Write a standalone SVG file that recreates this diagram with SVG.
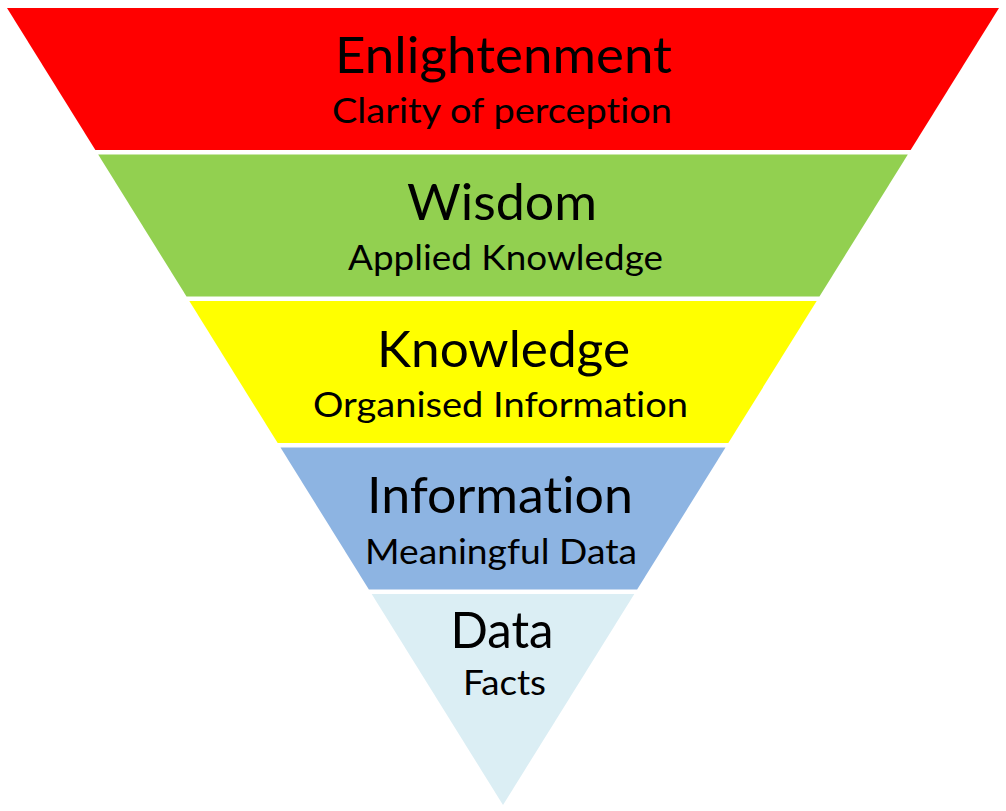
<svg xmlns="http://www.w3.org/2000/svg" width="1006" height="811" viewBox="0 0 1006 811">
<style>
text{font-family:Lato,"Open Sans","Liberation Sans",sans-serif;fill:#000;text-anchor:middle;font-variant-ligatures:none}
.t{font-size:51px}
.s{font-size:35px}
</style>
<rect width="1006" height="811" fill="#fff"/>
<g id="enlightenment">
<polygon points="7,8 999,8 910.63,150 95.37,150" fill="#FF0000"/>
<text class="t" x="503.5" y="73" textLength="337" lengthAdjust="spacingAndGlyphs">Enlightenment</text>
<text class="s" x="502" y="123" textLength="340" lengthAdjust="spacingAndGlyphs">Clarity of perception</text>
</g>
<g id="wisdom">
<polygon points="98.17,154.5 907.83,154.5 819.47,296.5 186.53,296.5" fill="#92D050"/>
<text class="t" x="502" y="220" textLength="190" lengthAdjust="spacingAndGlyphs">Wisdom</text>
<text class="s" x="505.5" y="270" textLength="315" lengthAdjust="spacingAndGlyphs">Applied Knowledge</text>
</g>
<g id="knowledge">
<polygon points="189.33,301 816.67,301 728.3,443 277.7,443" fill="#FFFF00"/>
<text class="t" x="503.5" y="367" textLength="253" lengthAdjust="spacingAndGlyphs">Knowledge</text>
<text class="s" x="500.5" y="417" textLength="375" lengthAdjust="spacingAndGlyphs">Organised Information</text>
</g>
<g id="information">
<polygon points="280.5,447.5 725.5,447.5 637.13,589.5 368.87,589.5" fill="#8DB4E2"/>
<text class="t" x="500" y="513" textLength="266" lengthAdjust="spacingAndGlyphs">Information</text>
<text class="s" x="501" y="564" textLength="272" lengthAdjust="spacingAndGlyphs">Meaningful Data</text>
</g>
<g id="data">
<polygon points="371.67,594 634.33,594 503,805" fill="#DBEEF4"/>
<text class="t" x="502" y="648" textLength="103" lengthAdjust="spacingAndGlyphs">Data</text>
<text class="s" x="504.5" y="695" textLength="83" lengthAdjust="spacingAndGlyphs">Facts</text>
</g>
<g id="connectors"/>
</svg>
